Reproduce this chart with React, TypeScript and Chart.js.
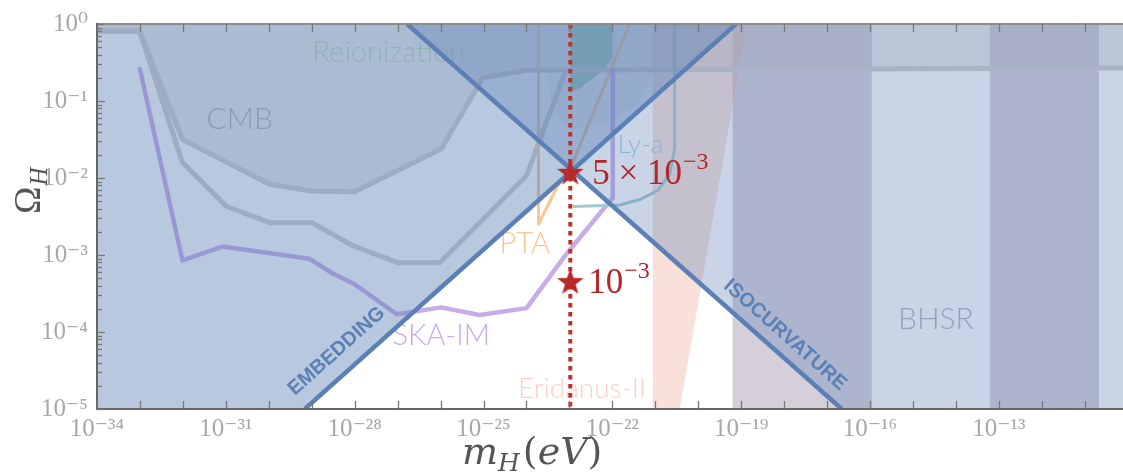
import { useEffect, useRef } from 'react';
import { Chart, registerables } from 'chart.js';

Chart.register(...registerables);

// ---- axis ranges (log10) ----
const X_MIN_EXP = -34;
const X_MAX_EXP = -10.11;
const Y_MIN_EXP = -5;
const Y_MAX_EXP = 0;

const xTickExps = [-34, -33, -32, -31, -30, -29, -28, -27, -26, -25, -24, -23, -22, -21, -20, -19, -18, -17, -16, -15, -14, -13, -12, -11];
const xLabelExps = [-34, -31, -28, -25, -22, -19, -16, -13];
const yLabelExps = [0, -1, -2, -3, -4, -5];

// ---- data (log10 m_H [eV], log10 Omega_H) ----
const embeddingLogM = [-29.16, -19.12];
const embeddingLogOmega = [-5, 0];
const isocurvatureLogM = [-26.78, -16.66];
const isocurvatureLogOmega = [0, -5];

const cmbLogM = [-34, -33.01, -32.01, -29.98, -29.0, -28.0, -25.98, -25.02, -24.0, -10.0];
const cmbLogOmega = [-0.09, -0.09, -1.5, -2.08, -2.17, -2.18, -1.62, -0.7, -0.6, -0.57];

const cmbOuterLogM = [-34, -33.01, -32.01, -30.98, -29.98, -29.0, -28.04, -27.0, -26.02, -24.0, -23.06];
const cmbOuterLogOmega = [-0.09, -0.09, -1.8, -2.37, -2.58, -2.58, -2.88, -3.1, -3.1, -1.97, -0.57];

const ptaLogM = [-23.72, -23.72, -23.3, -22.92, -21.6];
const ptaLogOmega = [0, -2.6, -2.13, -1.8, 0];

const skaLogM = [-33.01, -32.01, -31.08, -29.05, -28.51, -28.0, -27.02, -25.98, -25.09, -24.0, -23.06, -22.13, -22.0, -21.99];
const skaLogOmega = [-0.56, -3.07, -2.89, -3.05, -3.24, -3.38, -3.77, -3.68, -3.78, -3.69, -2.98, -2.35, -2.26, -0.57];

const lyaLogM = [-22.92, -21.83, -21.36, -20.94, -20.66, -20.55, -20.55];
const lyaLogOmega = [-2.37, -2.35, -2.28, -2.16, -1.94, -1.62, 0];

const reionLogM = [-22.98, -22.98, -22.76, -22.48, -22.22, -21.99, -21.99];
const reionLogOmega = [0, -0.88, -0.83, -0.72, -0.6, -0.44, 0];

const bumpLogM = [-23.53, -23.41, -22.99, -21.99, -21.36, -21.0];
const bumpLogOmega = [-0.57, -1.08, -1.38, -1.26, -1.02, -0.57];

const eridanusLogM = [-21.06, -20.43, -18.87, -21.06];
const eridanusLogOmega = [-5, -5, 0, 0];

const bhsrBandStart = [-19.2, -13.21];
const bhsrBandEnd = [-15.96, -10.67];

const benchmarkLogM = -22.98;
const benchmarkLogOmega = [-1.92, -3.34];
const benchmarkBase = ['5 × 10', '10'];
const benchmarkSup = ['−3', '−3'];

// ---- text annotations (data coords, left/baseline anchor) ----
const regionLabels = [
  { text: 'CMB', m: -31.45, o: -1.37, size: 30, color: '#b2afb1' },
  { text: 'Reionization', m: -28.98, o: -0.495, size: 29, color: '#b6dcb6' },
  { text: 'Ly-a', m: -21.88, o: -1.675, size: 26, color: '#a9d0d8' },
  { text: 'PTA', m: -24.63, o: -2.98, size: 29, color: '#ffc590' },
  { text: 'SKA-IM', m: -27.12, o: -4.175, size: 29, color: '#c9abe9' },
  { text: 'Eridanus-II', m: -24.2, o: -4.86, size: 28, color: '#f9d3c6' },
  { text: 'BHSR', m: -15.35, o: -3.96, size: 30, color: '#b3b4bb' },
];
const lineLabels = [
  { text: 'EMBEDDING', m: -28.42, o: -4.25, line: 'emb' },
  { text: 'ISOCURVATURE', m: -17.98, o: -4.04, line: 'iso' },
];

const SUP: Record<string, string> = { '0': '⁰', '1': '¹', '2': '²', '3': '³', '4': '⁴', '5': '⁵', '6': '⁶', '7': '⁷', '8': '⁸', '9': '⁹', '-': '⁻' };
const pow10Label = (e: number) => '10' + String(e).split('').map((c) => SUP[c]).join('');

const pts = (lm: number[], lo: number[]) => lm.map((m, i) => ({ x: Math.pow(10, m), y: Math.pow(10, lo[i]) }));

const SERIF = "'Liberation Serif', 'DejaVu Serif', serif";
const TITLE_SERIF = "'DejaVu Serif', 'Liberation Serif', serif";
const SANS_LIGHT = "Lato, 'Open Sans', 'Noto Sans', sans-serif";

function makeStar(color: string, outer: number, inner: number) {
  const size = Math.ceil(outer * 2 + 4);
  const c = document.createElement('canvas');
  c.width = size;
  c.height = size;
  const g = c.getContext('2d')!;
  g.translate(size / 2, size / 2 + outer * 0.1);
  g.beginPath();
  for (let i = 0; i < 10; i++) {
    const r = i % 2 ? inner : outer;
    const a = -Math.PI / 2 + (i * Math.PI) / 5;
    g.lineTo(r * Math.cos(a), r * Math.sin(a));
  }
  g.closePath();
  g.fillStyle = color;
  g.fill();
  return c;
}

const poly = (label: string, data: any[], color: string) => ({
  label, data, fill: 'shape', backgroundColor: color, borderWidth: 0, borderColor: 'rgba(0,0,0,0)',
  pointRadius: 0, clip: 0,
});
const line = (label: string, data: any[], color: string, width: number, extra: any = {}) => ({
  label, data, fill: false, borderColor: color, borderWidth: width, pointRadius: 0, clip: 0,
  borderJoinStyle: 'round', borderCapStyle: 'butt', ...extra,
});

export default function App() {
  const ref = useRef<HTMLCanvasElement>(null);
  useEffect(() => {
    const canvas = ref.current!;
    const star = makeStar('#b8292b', 14, 5.6);

    const datasets: any[] = [];
    bhsrBandStart.forEach((s, i) => {
      datasets.push(poly('BHSR band', pts([s, bhsrBandEnd[i], bhsrBandEnd[i], s], [Y_MIN_EXP, Y_MIN_EXP, Y_MAX_EXP, Y_MAX_EXP]), 'rgba(135,118,146,0.35)'));
    });
    datasets.push(poly('Eridanus-II', pts(eridanusLogM, eridanusLogOmega), 'rgba(240,178,160,0.4)'));
    datasets.push(poly('CMB', pts([...cmbLogM, -9.9, X_MIN_EXP], [...cmbLogOmega, Y_MAX_EXP, Y_MAX_EXP]), 'rgba(190,186,190,0.35)'));
    datasets.push(poly('bump', pts(bumpLogM, bumpLogOmega), 'rgba(190,186,190,0.22)'));
    datasets.push(poly('Reionization', pts(reionLogM, reionLogOmega), 'rgb(160,206,180)'));
    datasets.push(line('CMB line', pts(cmbLogM, cmbLogOmega), '#d0cdce', 5));
    datasets.push(line('CMB outer line', pts(cmbOuterLogM, cmbOuterLogOmega), '#d0cdce', 5));
    datasets.push(line('PTA', pts(ptaLogM, ptaLogOmega), '#ffc590', 3));
    datasets.push(line('SKA-IM', pts(skaLogM, skaLogOmega), '#c9abe9', 4.5));
    datasets.push(line('Ly-a', pts(lyaLogM, lyaLogOmega), '#a4c7d2', 3));
    const labelAfterIndex = datasets.length - 1;
    datasets.push(poly('Embedding excluded', pts([X_MIN_EXP, ...embeddingLogM, X_MIN_EXP], [Y_MIN_EXP, ...embeddingLogOmega, Y_MAX_EXP]), 'rgba(91,127,181,0.43)'));
    datasets.push(poly('Isocurvature excluded', pts([...isocurvatureLogM, -9.9, -9.9], [...isocurvatureLogOmega, Y_MIN_EXP, Y_MAX_EXP]), 'rgba(91,127,181,0.33)'));
    datasets.push(line('Embedding', pts(embeddingLogM, embeddingLogOmega), '#5b80b6', 4.5));
    datasets.push(line('Isocurvature', pts(isocurvatureLogM, isocurvatureLogOmega), '#5b80b6', 4.5));
    datasets.push(line('Benchmark mass', pts([benchmarkLogM, benchmarkLogM], [Y_MAX_EXP, Y_MIN_EXP]), '#c0302b', 4, { borderDash: [4.5, 4.5] }));
    datasets.push({
      label: 'Benchmarks', data: pts(benchmarkLogOmega.map(() => benchmarkLogM), benchmarkLogOmega),
      showLine: false, pointStyle: star, pointRadius: 10, clip: false,
    });
    datasets.forEach((d, i) => { d.order = -i; });

    const px = (c: any, m: number) => c.scales.x.getPixelForValue(Math.pow(10, m));
    const py = (c: any, o: number) => c.scales.y.getPixelForValue(Math.pow(10, o));

    const overlay = {
      id: 'overlay',
      afterDatasetDraw(c: any, args: any) {
        if (args.index !== labelAfterIndex) return;
        const ctx = c.ctx;
        ctx.save();
        ctx.textAlign = 'left';
        ctx.textBaseline = 'alphabetic';
        regionLabels.forEach((l) => {
          ctx.font = `300 ${l.size}px ${SANS_LIGHT}`;
          ctx.fillStyle = l.color;
          ctx.fillText(l.text, px(c, l.m), py(c, l.o));
        });
        ctx.restore();
      },
      afterDraw(c: any) {
        const ctx = c.ctx;
        const { left, right, top, bottom } = c.chartArea;
        ctx.save();
        // frame
        ctx.lineWidth = 2;
        ctx.strokeStyle = '#8c8c8c';
        ctx.beginPath(); ctx.moveTo(left, top); ctx.lineTo(right + 2, top); ctx.stroke();
        ctx.strokeStyle = '#666666';
        ctx.beginPath(); ctx.moveTo(left, top - 1); ctx.lineTo(left, bottom); ctx.lineTo(right + 2, bottom); ctx.stroke();
        // ticks
        ctx.lineWidth = 1.3;
        ctx.strokeStyle = '#777777';
        xTickExps.forEach((e) => {
          const x = Math.round(px(c, e)) + 0.5;
          ctx.beginPath();
          ctx.moveTo(x, bottom); ctx.lineTo(x, bottom - 8);
          ctx.moveTo(x, top); ctx.lineTo(x, top + 8);
          ctx.stroke();
        });
        for (let e = Y_MIN_EXP; e <= Y_MAX_EXP; e++) {
          for (let k = 1; k <= 9; k++) {
            const v = k * Math.pow(10, e);
            if (v > Math.pow(10, Y_MAX_EXP) * 1.0001) break;
            const y = Math.round(c.scales.y.getPixelForValue(v)) + 0.5;
            ctx.beginPath();
            ctx.moveTo(left, y); ctx.lineTo(left + (k === 1 ? 8 : 5), y);
            ctx.stroke();
          }
        }
        // line labels
        ctx.fillStyle = '#5b80b6';
        ctx.font = `bold 20px 'Liberation Sans', Arial, sans-serif`;
        ctx.textAlign = 'center';
        ctx.textBaseline = 'middle';
        lineLabels.forEach((l) => {
          const lm = l.line === 'emb' ? embeddingLogM : isocurvatureLogM;
          const lo = l.line === 'emb' ? embeddingLogOmega : isocurvatureLogOmega;
          const ang = Math.atan2(py(c, lo[1]) - py(c, lo[0]), px(c, lm[1]) - px(c, lm[0]));
          ctx.save();
          ctx.translate(px(c, l.m), py(c, l.o));
          ctx.rotate(ang);
          ctx.fillText(l.text, 0, 0);
          ctx.restore();
        });
        // benchmark labels
        ctx.fillStyle = '#b3262a';
        ctx.textAlign = 'left';
        ctx.textBaseline = 'alphabetic';
        benchmarkLogOmega.forEach((o, i) => {
          const x0 = px(c, benchmarkLogM) + (i === 0 ? 22 : 18);
          const y0 = py(c, o) + 12;
          ctx.font = `35px ${SERIF}`;
          ctx.fillText(benchmarkBase[i], x0, y0);
          const w = ctx.measureText(benchmarkBase[i]).width;
          ctx.font = `24px ${SERIF}`;
          ctx.fillText(benchmarkSup[i], x0 + w + 1, y0 - 15);
        });
        // axis titles
        ctx.fillStyle = '#555555';
        ctx.save();
        ctx.translate(40, 214);
        ctx.rotate(-Math.PI / 2);
        ctx.font = `37px ${SERIF}`;
        ctx.fillText('Ω', 0, 0);
        const wO = ctx.measureText('Ω').width;
        ctx.font = `italic 25px ${SERIF}`;
        ctx.fillText('H', wO + 1, 7);
        ctx.restore();

        let x = 462;
        const yb = 464;
        const seg = (t: string, font: string, dy = 0) => {
          ctx.font = font;
          ctx.fillText(t, x, yb + dy);
          x += ctx.measureText(t).width;
        };
        seg('m', `italic 38px ${TITLE_SERIF}`);
        seg('H', `italic 25px ${TITLE_SERIF}`, 7);
        x += 3;
        seg('(', `38px ${TITLE_SERIF}`);
        seg('eV', `italic 38px ${TITLE_SERIF}`);
        seg(')', `38px ${TITLE_SERIF}`);
        ctx.restore();
      },
    };

    const tickFont = { family: SERIF, size: 25 };
    const chart = new Chart(canvas, {
      type: 'line',
      data: { datasets },
      options: {
        animation: false,
        responsive: true,
        maintainAspectRatio: false,
        layout: { autoPadding: false, padding: { top: 15, right: 0, bottom: 0, left: 0 } },
        plugins: { legend: { display: false }, tooltip: { enabled: false } },
        elements: { line: { tension: 0 } },
        scales: {
          x: {
            type: 'logarithmic',
            min: Math.pow(10, X_MIN_EXP),
            max: Math.pow(10, X_MAX_EXP),
            grid: { display: false, drawTicks: false },
            border: { display: false },
            afterBuildTicks: (s: any) => { s.ticks = xLabelExps.map((e) => ({ value: Math.pow(10, e) })); },
            afterFit: (s: any) => { s.height = 66; },
            ticks: {
              autoSkip: false, maxRotation: 0, padding: 5, color: '#a8a8a8', font: tickFont,
              callback: (v: any) => pow10Label(Math.round(Math.log10(Number(v)))),
            },
          },
          y: {
            type: 'logarithmic',
            min: Math.pow(10, Y_MIN_EXP),
            max: Math.pow(10, Y_MAX_EXP),
            grid: { display: false, drawTicks: false },
            border: { display: false },
            afterBuildTicks: (s: any) => { s.ticks = yLabelExps.map((e) => ({ value: Math.pow(10, e) })); },
            afterFit: (s: any) => { s.width = 97; },
            ticks: {
              autoSkip: false, padding: 9, color: '#a8a8a8', font: tickFont,
              callback: (v: any) => pow10Label(Math.round(Math.log10(Number(v)))),
            },
          },
        },
      } as any,
      plugins: [overlay],
    } as any);
    return () => chart.destroy();
  }, []);

  return (
    <div style={{ position: 'absolute', left: 0, top: 0, width: 1123, height: 475 }}>
      <canvas ref={ref} />
    </div>
  );
}
